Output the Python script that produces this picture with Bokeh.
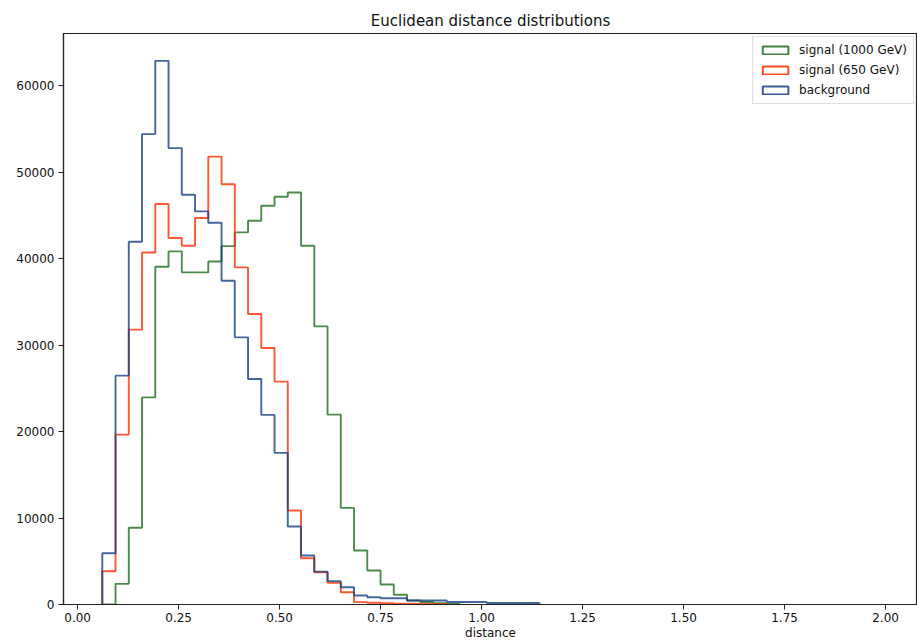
import numpy as np
from bokeh.plotting import figure
from bokeh.models import (Legend, LegendItem, FixedTicker,
                          NumeralTickFormatter, Range1d)
from bokeh.embed import file_html
from bokeh.resources import INLINE

# ---- data ----
bin_start = 0.061
bin_width = 0.0328

signal_1000 = [0, 2390, 8870, 23960, 39070, 40840, 38410, 38410, 39680, 41450,
               43040, 44390, 46120, 47160, 47660, 41500, 32170, 21960, 11180, 6240,
               3930, 2310, 1120, 460, 290, 150, 60]
signal_650 = [3850, 19650, 31790, 40720, 46320, 42390, 41500, 44700, 51800, 48600,
              38990, 33600, 29670, 25780, 10870, 5350, 3730, 2500, 1420, 270,
              200, 150, 100, 80, 60, 30]
background = [5930, 26470, 41960, 54410, 62880, 52790, 47400, 45470, 44160, 37450,
              30900, 26090, 21930, 17540, 9020, 5660, 3800, 2700, 2000, 1040,
              840, 730, 730, 460, 460, 460, 290, 290, 290, 170, 170, 170, 170]

series = [("signal (1000 GeV)", signal_1000, "#1f6e1f"),
          ("signal (650 GeV)", signal_650, "#ff2d00"),
          ("background", background, "#173f85")]

x_ticks = [0.0, 0.25, 0.5, 0.75, 1.0, 1.25, 1.5, 1.75, 2.0]
y_ticks = [0, 10000, 20000, 30000, 40000, 50000, 60000]


def outline(vals):
    n = len(vals)
    edges = bin_start + bin_width * np.arange(n + 1)
    xs = np.repeat(edges, 2)
    ys = np.concatenate([[0], np.repeat(vals, 2), [0]])
    return xs, ys


FONT = "DejaVu Sans"
p = figure(width=917, height=643, output_backend="svg", toolbar_location=None,
           x_range=Range1d(-0.0350, 2.0790), y_range=Range1d(0, 66045),
           min_border_left=63, min_border_right=0, min_border_top=33,
           min_border_bottom=39, title="Euclidean distance distributions")
p.title.align = "center"
p.title.text_font = FONT
p.title.text_font_size = "15px"
p.title.text_font_style = "normal"
p.title.text_color = "#111111"
p.title.standoff = 8

p.xgrid.visible = False
p.ygrid.visible = False
p.outline_line_color = "#222222"
p.outline_line_width = 1.2

for ax in (p.xaxis[0], p.yaxis[0]):
    ax.axis_line_color = "#222222"
    ax.axis_line_width = 1.2
    ax.major_tick_line_color = "#222222"
    ax.minor_tick_line_color = None
    ax.major_tick_in = 0
    ax.major_tick_out = 5
    ax.major_label_text_font = FONT
    ax.major_label_text_font_size = "12px"
    ax.major_label_text_color = "#111111"
    ax.axis_label_text_font = FONT
    ax.axis_label_text_font_size = "12px"
    ax.axis_label_text_font_style = "normal"
    ax.axis_label_text_color = "#111111"

p.xaxis.ticker = FixedTicker(ticks=x_ticks)
p.xaxis.formatter = NumeralTickFormatter(format="0.00")
p.xaxis.axis_label = "distance"
p.xaxis.major_label_standoff = 3
p.xaxis.axis_label_standoff = 1
p.yaxis.ticker = FixedTicker(ticks=y_ticks)
p.yaxis.formatter = NumeralTickFormatter(format="0")
p.yaxis.major_label_standoff = 4

items = []
for name, vals, color in series:
    xs, ys = outline(vals)
    p.line(xs, ys, line_color=color, line_width=1.9, line_alpha=0.8)
    dummy = p.quad(left=[np.nan], right=[np.nan], top=[np.nan], bottom=[np.nan],
                   fill_color="white", line_color=color, line_width=2,
                   line_alpha=0.85)
    items.append(LegendItem(label=name, renderers=[dummy]))

legend = Legend(items=items, location="top_right")
legend.label_text_font = FONT
legend.label_text_font_size = "12px"
legend.label_text_color = "#111111"
legend.glyph_width = 32
legend.glyph_height = 10
legend.label_height = 14
legend.label_standoff = 8
legend.spacing = 6
legend.padding = 6
legend.margin = 3
legend.border_line_color = "#bbbbbb"
legend.background_fill_alpha = 0.9
p.add_layout(legend, "center")

open("out.html", "w").write(file_html(p, INLINE))
